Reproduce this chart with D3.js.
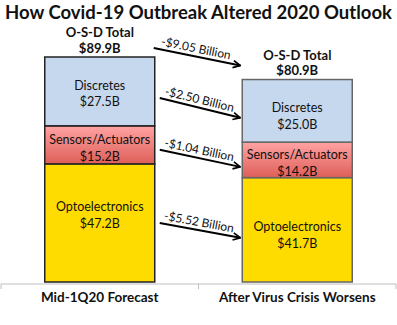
<!DOCTYPE html>
<html>
<head>
<meta charset="utf-8">
<script src="https://cdn.jsdelivr.net/npm/d3@7"></script>
<style>
  body { margin: 0; background: #fff; }
  svg { font-family: Lato, "Open Sans", sans-serif; display: block; }
</style>
</head>
<body>
<svg id="chart" width="397" height="325"></svg>
<script>
// chart data
const scenarios = ["Mid-1Q20 Forecast", "After Virus Crisis Worsens"];
const segments = ["Optoelectronics", "Sensors/Actuators", "Discretes"];
const optoValues = [47.2, 41.7];
const sensorValues = [15.2, 14.2];
const discreteValues = [27.5, 25.0];
const totalValues = [89.9, 80.9];
const changeLabels = ["-$9.05 Billion", "-$2.50 Billion", "-$1.04 Billion", "-$5.52 Billion"];
const titleText = "How Covid-19 Outbreak Altered 2020 Outlook";

const W = 397, H = 325;
const svg = d3.select("#chart");

const defs = svg.append("defs");
const grad = defs.append("linearGradient").attr("id", "sensGrad")
    .attr("x1", 0).attr("y1", 0).attr("x2", 0).attr("y2", 1);
grad.append("stop").attr("offset", "0%").attr("stop-color", "#ffa3a3");
grad.append("stop").attr("offset", "100%").attr("stop-color", "#de5f58");

const marker = defs.append("marker").attr("id", "arrow")
    .attr("viewBox", "0 0 10 10").attr("refX", 9).attr("refY", 5)
    .attr("markerWidth", 9).attr("markerHeight", 9)
    .attr("markerUnits", "userSpaceOnUse")
    .attr("orient", "auto");
marker.append("path").attr("d", "M1,1 L9,5 L1,9")
    .attr("fill", "none").attr("stroke", "#000").attr("stroke-width", 1.8);

const colors = {
    "Optoelectronics": "#ffdc00",
    "Sensors/Actuators": "url(#sensGrad)",
    "Discretes": "#c6d8ed"
};
const borderColors = ["#222", "#666"];

// build table for stacking
const table = scenarios.map((s, i) => ({
    scenario: s,
    "Optoelectronics": optoValues[i],
    "Sensors/Actuators": sensorValues[i],
    "Discretes": discreteValues[i],
    total: totalValues[i]
}));
const stacked = d3.stack().keys(segments)(table);

const x = d3.scaleBand().domain(scenarios).range([1, 396]).paddingInner(0).paddingOuter(0);
const barW = 110;
const barX = d => x(d) + (x.bandwidth() - barW) / 2;
const y = d3.scaleLinear().domain([0, 89.9]).range([282, 57]);

// title
svg.append("text")
    .attr("x", W / 2).attr("y", 19)
    .attr("text-anchor", "middle")
    .attr("font-weight", "bold").attr("font-size", 18.5)
    .attr("fill", "#111")
    .text(titleText);

// bars
const series = svg.selectAll("g.series").data(stacked).join("g").attr("class", "series");
series.selectAll("rect").data(d => d.map(p => ({ key: d.key, p })))
    .join("rect")
    .attr("x", d => barX(d.p.data.scenario))
    .attr("width", barW)
    .attr("y", d => y(d.p[1]))
    .attr("height", d => y(d.p[0]) - y(d.p[1]))
    .attr("fill", d => colors[d.key])
    .attr("stroke", d => borderColors[scenarios.indexOf(d.p.data.scenario)])
    .attr("stroke-width", 1.5);

// segment labels (nudges to follow the original placement)
const labelNudge = {
    "Optoelectronics": [-8, 5],
    "Sensors/Actuators": [3, 3],
    "Discretes": [2, 5]
};
stacked.forEach(s => {
    s.forEach((p, i) => {
        const cx = barX(p.data.scenario) + barW / 2;
        const cy = (y(p[0]) + y(p[1])) / 2 + labelNudge[s.key][i];
        const t = svg.append("text")
            .attr("text-anchor", "middle")
            .attr("font-size", 12.5).attr("fill", "#111");
        t.append("tspan").attr("x", cx).attr("y", cy - 3.5).text(s.key);
        t.append("tspan").attr("x", cx).attr("y", cy + 13).text(`$${(p[1] - p[0]).toFixed(1)}B`);
    });
});

// totals above bars
table.forEach(d => {
    const cx = barX(d.scenario) + barW / 2;
    const top = y(d.total);
    const t = svg.append("text").attr("text-anchor", "middle")
        .attr("font-weight", "bold").attr("font-size", 13).attr("fill", "#111");
    t.append("tspan").attr("x", cx).attr("y", top - 20).text("O-S-D Total");
    t.append("tspan").attr("x", cx).attr("y", top - 4.5).text(`$${d.total.toFixed(1)}B`);
});

// arrows between bars: total, discretes, sensors, opto
const leftX = barX(scenarios[0]) + barW;
const rightX = barX(scenarios[1]);
const mid = (key, i) => {
    const s = stacked.find(k => k.key === key)[i];
    return (y(s[0]) + y(s[1])) / 2;
};
const arrows = [
    { y0: y(totalValues[0]) - 9, y1: y(totalValues[1]) - 14, dx0: -1 },
    { y0: mid("Discretes", 0) + 6.5, y1: mid("Discretes", 1) + 7, dx0: 5 },
    { y0: mid("Sensors/Actuators", 0) + 5, y1: mid("Sensors/Actuators", 1) + 7, dx0: 5 },
    { y0: mid("Optoelectronics", 0) + 0, y1: mid("Optoelectronics", 1) + 8, dx0: 5 }
];
arrows.forEach((a, i) => {
    const x0 = leftX + a.dx0, x1 = rightX - 2;
    svg.append("line")
        .attr("x1", x0).attr("y1", a.y0).attr("x2", x1).attr("y2", a.y1)
        .attr("stroke", "#000").attr("stroke-width", 2)
        .attr("marker-end", "url(#arrow)");
    const ang = Math.atan2(a.y1 - a.y0, x1 - x0) * 180 / Math.PI;
    const mx = x0 + (x1 - x0) * 0.47, my = a.y0 + (a.y1 - a.y0) * 0.47;
    svg.append("text")
        .attr("transform", `translate(${mx},${my}) rotate(${ang})`)
        .attr("text-anchor", "middle").attr("dy", -4)
        .attr("font-size", 12).attr("fill", "#111")
        .text(changeLabels[i]);
});

// category axis
const axisY = 284;
svg.append("line").attr("x1", 1).attr("x2", 396).attr("y1", axisY).attr("y2", axisY)
    .attr("stroke", "#bfbfbf").attr("stroke-width", 1);
[0, 1, 2].forEach(k => {
    const tx = k === 2 ? 396 : (k === 0 ? 1 : x(scenarios[1]));
    svg.append("line").attr("x1", tx).attr("x2", tx).attr("y1", axisY).attr("y2", axisY + 5)
        .attr("stroke", "#bfbfbf");
});
svg.selectAll("text.cat").data(scenarios).join("text")
    .attr("class", "cat")
    .attr("x", d => x(d) + x.bandwidth() / 2)
    .attr("y", 302)
    .attr("text-anchor", "middle")
    .attr("font-weight", "bold").attr("font-size", 13.5)
    .attr("fill", "#111")
    .text(d => d);
</script>
</body>
</html>
